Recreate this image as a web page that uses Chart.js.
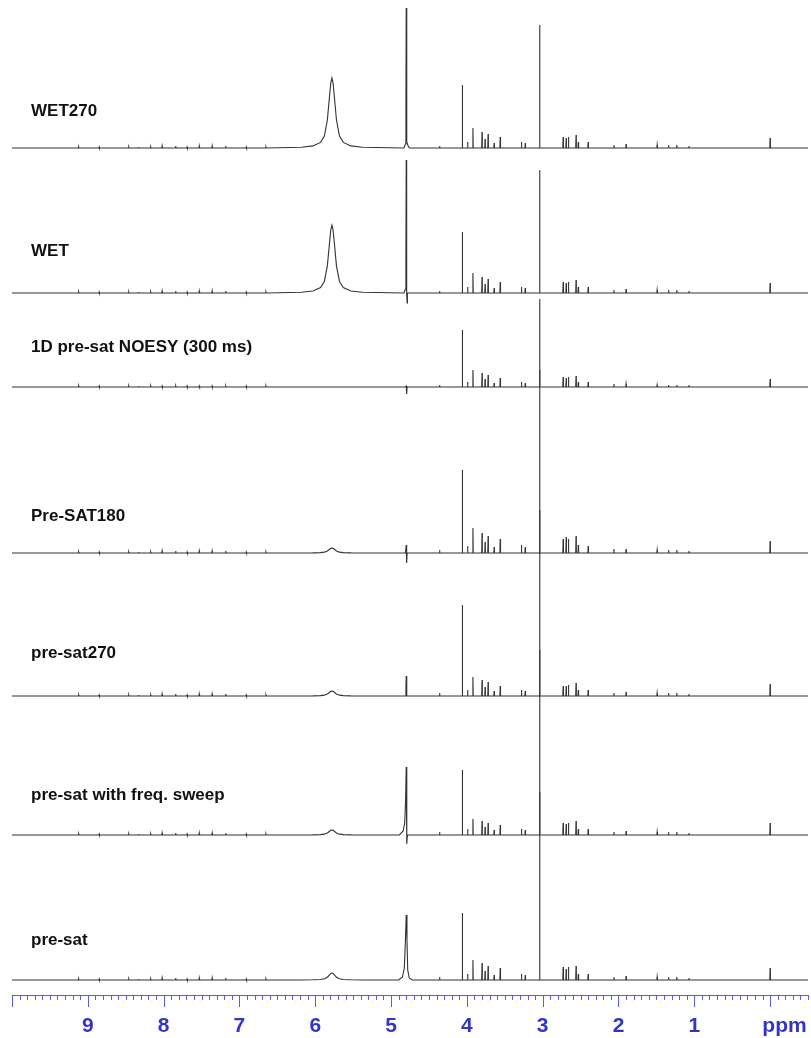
<!DOCTYPE html>
<html>
<head>
<meta charset="utf-8">
<script src="https://cdn.jsdelivr.net/npm/chart.js@4.4.0/dist/chart.umd.min.js"></script>
<style>
  html, body { margin: 0; padding: 0; background: #fff; overflow: hidden; }
  #wrap { width: 811px; height: 1038px; }
</style>
</head>
<body>
<div id="wrap"><canvas id="nmr" width="811" height="1038"></canvas></div>
<script>
// spectra, top to bottom
const TRACE_NAMES = [
    "WET270",
    "WET",
    "1D pre-sat NOESY (300 ms)",
    "Pre-SAT180",
    "pre-sat270",
    "pre-sat with freq. sweep",
    "pre-sat"
];

// axis
const AXIS_MIN = -0.5;
const AXIS_MAX = 10.0;
const MAJOR_TICKS = [9, 8, 7, 6, 5, 4, 3, 2, 1, 0];
const AXIS_UNIT = "ppm";

// sharp metabolite peaks (ppm), shared by all spectra
const PEAK_PPM = [9.12, 8.85, 8.46, 8.33, 8.17, 8.02, 7.84, 7.69, 7.53, 7.36, 7.18, 6.91, 6.65,
                  4.36, 4.06, 3.99, 3.92, 3.80, 3.76, 3.72, 3.64, 3.56, 3.28, 3.23, 3.04,
                  2.73, 2.69, 2.66, 2.56, 2.53, 2.40, 2.06, 1.90, 1.49, 1.34, 1.23, 1.07, 0.00];

// peak heights (same order as PEAK_PPM)
const HEIGHTS_WET270   = [1,1,1,1,1,2,2,1,2,2,2,1,1, 2,63,6,20,16,9,14,5,11,6,5,123, 11,10,11,13,6,6,3,4,3,3,3,2,10];
const HEIGHTS_WET      = [1,1,1,1,1,2,2,1,2,2,2,1,1, 2,61,6,20,16,9,14,5,11,6,5,123, 11,10,11,13,6,6,3,4,3,3,3,2,10];
const HEIGHTS_NOESY    = [1,1,1,1,1,1,1,1,1,1,1,1,1, 2,57,5,17,14,8,12,4,9,5,4,88,   10,9,10,11,5,5,3,3,2,2,2,2,8];
const HEIGHTS_PRESAT180= [1,1,1,1,1,2,2,1,2,2,2,1,1, 3,83,7,25,20,11,17,6,14,8,6,183, 14,16,14,17,8,7,4,4,3,3,3,2,12];
const HEIGHTS_PRESAT270= [1,1,1,1,1,2,2,1,2,2,2,1,1, 3,91,6,19,16,9,14,5,10,6,5,186, 10,10,11,13,6,6,3,4,3,3,3,2,12];
const HEIGHTS_SWEEP    = [1,1,1,1,1,2,2,1,2,2,2,1,1, 3,65,6,16,14,8,12,5,10,6,5,185, 12,11,12,14,6,6,3,4,3,3,3,2,12];
const HEIGHTS_PRESAT   = [1,1,1,1,1,2,2,1,2,2,2,1,1, 3,67,6,20,17,9,14,5,12,6,5,188, 13,11,13,14,6,6,3,4,3,3,3,2,12];

// broad urea line at 5.78 ppm
const UREA_PPM = 5.78;
const UREA_HEIGHT = [70, 68, 0, 5, 5, 5, 7];
const UREA_SHAPE = [[0.4, 0.01], [0.25, 0.03], [0.15, 0.08], [0.1, 0.17], [0.06, 0.4], [0.035, 0.7], [0.015, 0.93], [0, 1]];

// residual water at 4.80 ppm: [offset ppm, height]
const WATER_PPM = 4.80;
const WATER_WET270 = [[0.03,0],[0.01,4],[0.004,30],[0,140],[-0.004,30],[-0.01,6],[-0.03,1],[-0.045,0]];
const WATER_WET    = [[0.03,0],[0.01,4],[0.004,30],[0,133],[-0.004,20],[-0.008,0],[-0.012,-10],[-0.016,0]];
const WATER_NOESY  = [[0.01,0],[0,1],[-0.006,-7],[-0.012,0]];
const WATER_PS180  = [[0.01,0],[0,8],[-0.006,-10],[-0.012,0]];
const WATER_PS270  = [[0.015,0],[0.004,6],[0,20],[-0.004,4],[-0.01,0]];
const WATER_SWEEP  = [[0.09,0],[0.04,4],[0.02,12],[0.008,35],[0,68],[-0.005,20],[-0.01,-9],[-0.016,0]];
const WATER_PRESAT = [[0.1,0],[0.05,3],[0.025,12],[0.01,40],[0,65],[-0.01,40],[-0.02,10],[-0.04,2],[-0.08,0]];

const HEIGHTS = [HEIGHTS_WET270, HEIGHTS_WET, HEIGHTS_NOESY, HEIGHTS_PRESAT180, HEIGHTS_PRESAT270, HEIGHTS_SWEEP, HEIGHTS_PRESAT];
const WATER = [WATER_WET270, WATER_WET, WATER_NOESY, WATER_PS180, WATER_PS270, WATER_SWEEP, WATER_PRESAT];

// layout: vertical stacking of the spectra and label gap above each baseline
const STACK_OFFSET = [847, 702, 608, 442, 299, 160, 15];
const LABEL_GAP = [37, 42, 40, 37, 43, 40, 40];
const PEAK_HALF_WIDTH = 0.004;

const AXIS_BLUE = "#5a5ae6";
const LABEL_BLUE = "#3434c8";
const FONT = '"Liberation Sans", Arial, sans-serif';

function tracePoints(t) {
    const off = STACK_OFFSET[t];
    const pts = [{x: AXIS_MAX, y: off}, {x: AXIS_MIN, y: off}];
    PEAK_PPM.forEach((p, i) => {
        const h = HEIGHTS[t][i];
        if (!h) return;
        pts.push({x: p + PEAK_HALF_WIDTH, y: off}, {x: p, y: off + h}, {x: p - PEAK_HALF_WIDTH, y: off});
    });
    if (UREA_HEIGHT[t]) {
        UREA_SHAPE.forEach(([d, f]) => {
            pts.push({x: UREA_PPM + d, y: off + f * UREA_HEIGHT[t]});
            if (d) pts.push({x: UREA_PPM - d, y: off + f * UREA_HEIGHT[t]});
        });
    }
    WATER[t].forEach(([d, h]) => pts.push({x: WATER_PPM + d, y: off + h}));
    pts.sort((a, b) => b.x - a.x);
    return pts;
}

const decor = {
    id: 'decor',
    afterDraw(chart) {
        const {ctx, scales: {x, y}} = chart;
        ctx.save();
        // tick marks hanging below the axis line
        ctx.strokeStyle = AXIS_BLUE;
        ctx.lineWidth = 1;
        x.ticks.forEach(tk => {
            const px = Math.round(x.getPixelForValue(tk.value)) + 0.5;
            const major = Math.abs(tk.value - Math.round(tk.value)) < 1e-6;
            ctx.beginPath();
            ctx.moveTo(px, x.top);
            ctx.lineTo(px, x.top + (major ? 12 : 5));
            ctx.stroke();
        });
        // unit label
        ctx.fillStyle = LABEL_BLUE;
        ctx.font = 'bold 21px ' + FONT;
        ctx.textAlign = 'center';
        ctx.textBaseline = 'middle';
        ctx.fillText(AXIS_UNIT, x.getPixelForValue(-0.19), x.top + 31);
        // spectrum names
        ctx.fillStyle = '#111';
        ctx.font = 'bold 17px ' + FONT;
        ctx.textAlign = 'left';
        TRACE_NAMES.forEach((n, i) => {
            ctx.fillText(n, 31, y.getPixelForValue(STACK_OFFSET[i]) - LABEL_GAP[i]);
        });
        ctx.restore();
    }
};

new Chart(document.getElementById('nmr'), {
    type: 'line',
    data: {
        datasets: TRACE_NAMES.map((name, t) => ({
            label: name,
            data: tracePoints(t),
            borderColor: '#333',
            borderWidth: 1.1,
            pointRadius: 0,
            tension: 0,
            fill: false
        }))
    },
    options: {
        responsive: false,
        animation: false,
        layout: { padding: { left: 12, right: 3, top: 0, bottom: 0 } },
        plugins: { legend: { display: false }, tooltip: { enabled: false } },
        scales: {
            x: {
                type: 'linear',
                reverse: true,
                min: AXIS_MIN,
                max: AXIS_MAX,
                afterBuildTicks: s => {
                    const t = [];
                    for (let i = Math.round(AXIS_MIN * 10); i <= Math.round(AXIS_MAX * 10); i++) t.push({value: i / 10});
                    s.ticks = t;
                },
                ticks: {
                    autoSkip: false,
                    maxRotation: 0,
                    padding: 1,
                    color: LABEL_BLUE,
                    font: { family: FONT, size: 21, weight: 'bold', lineHeight: 1 },
                    callback: v => {
                        const r = Math.round(v * 10);
                        return (r % 10 === 0 && v >= 1 && v <= 9) ? String(Math.round(v)) : '';
                    }
                },
                grid: { drawOnChartArea: false, tickLength: 20, tickColor: 'rgba(0,0,0,0)' },
                border: { color: AXIS_BLUE, width: 1 }
            },
            y: {
                display: false,
                min: 0,
                max: 995
            }
        }
    },
    plugins: [decor]
});
</script>
</body>
</html>
